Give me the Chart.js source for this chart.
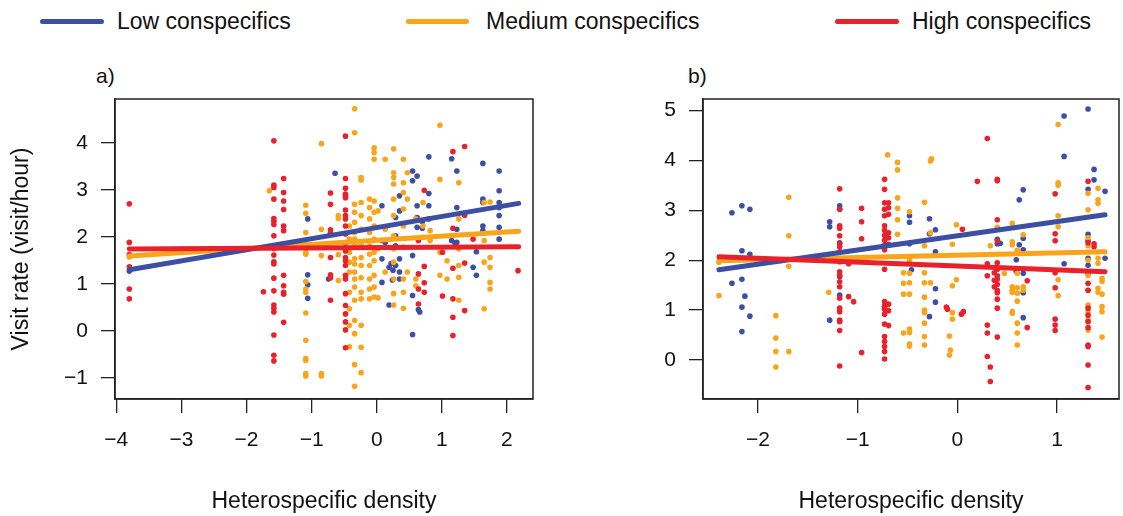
<!DOCTYPE html>
<html>
<head>
<meta charset="utf-8">
<script src="https://cdn.jsdelivr.net/npm/chart.js@4"></script>
<style>
  body { margin: 0; background: #fff; font-family: "Liberation Sans", Arial, sans-serif; color: #111; }
  #page { position: relative; width: 1123px; height: 516px; overflow: hidden; }
  canvas { position: absolute; top: 0; }
  .key-line { position: absolute; top: 19px; height: 5px; border-radius: 3px; }
  .key-text { position: absolute; top: 7px; line-height: 28px; font-size: 23px; white-space: nowrap; }
  .panel-tag { position: absolute; top: 63px; line-height: 26px; font-size: 21px; }
</style>
</head>
<body>
<div id="page">
  <div class="key-line" style="left:40px;width:64px;background:#3c4fa3"></div>
  <div class="key-text" style="left:117px">Low conspecifics</div>
  <div class="key-line" style="left:406px;width:63px;background:#f8a51b"></div>
  <div class="key-text" style="left:486px">Medium conspecifics</div>
  <div class="key-line" style="left:835px;width:64px;background:#e8212a"></div>
  <div class="key-text" style="left:912px">High conspecifics</div>
  <div class="panel-tag" style="left:96px">a)</div>
  <div class="panel-tag" style="left:688px">b)</div>
  <canvas id="panel-a" width="561" height="516" style="left:0"></canvas>
  <canvas id="panel-b" width="562" height="516" style="left:561px"></canvas>
</div>
<script>
const BLUE = "#3c4fa3";
const ORANGE = "#f8a51b";
const RED = "#e8212a";

// axis limits and ticks
const aXRange = [-4.02, 2.40];
const aYRange = [-1.45, 4.93];
const aXTicks = [-4, -3, -2, -1, 0, 1, 2];
const aYTicks = [-1, 0, 1, 2, 3, 4];
const bXRange = [-2.55, 1.62];
const bYRange = [-0.78, 5.23];
const bXTicks = [-2, -1, 0, 1];
const bYTicks = [0, 1, 2, 3, 4, 5];

// panel a, points [heterospecific density, visit rate]
const aLow = [
  [-3.8, 1.27],
  [-1.06, 2.38], [-1.06, 1.19], [-1.06, 0.98], [-1.06, 0.69],
  [-0.74, 1.10], [-0.64, 3.35],
  [0.08, 2.66], [0.08, 1.92], [0.08, 1.53], [0.08, 1.03], [0.13, 1.88],
  [0.19, 1.35], [0.19, 0.55], [0.22, 1.43], [0.25, 1.29], [0.24, 1.08],
  [0.29, 2.41], [0.29, 2.02], [0.29, 1.81], [0.29, 1.39],
  [0.35, 2.87], [0.35, 2.55], [0.35, 1.53], [0.35, 1.25], [0.35, 1.10],
  [0.55, 3.40], [0.55, 3.19], [0.55, 1.60], [0.55, 0.75], [0.55, -0.08],
  [0.62, 3.29], [0.62, 2.66], [0.62, 2.41], [0.62, 2.20], [0.66, 0.40], [0.64, 0.45],
  [0.70, 2.32], [0.70, 2.18],
  [0.80, 3.70], [0.80, 2.92], [0.80, 2.66], [0.80, 2.38],
  [1.15, 3.66], [1.15, 1.92], [1.20, 1.87],
  [1.23, 3.40], [1.23, 2.62], [1.23, 2.16], [1.23, 1.88],
  [1.48, 1.35], [1.53, 1.18], [1.53, 1.68],
  [1.63, 3.56], [1.63, 2.80], [1.63, 2.73], [1.63, 2.23], [1.63, 2.13],
  [1.88, 3.40], [1.88, 2.98], [1.88, 2.73], [1.88, 2.62], [1.88, 2.45], [1.88, 2.20], [1.88, 1.95]
];
const aMed = [
  [-3.8, 1.57], [-1.65, 2.98],
  [-1.09, 2.67], [-1.09, 2.50], [-1.09, 2.09], [-1.09, 1.85], [-1.09, 1.67], [-1.09, 1.63],
  [-1.09, 1.05], [-1.09, 0.89], [-1.09, 0.82], [-1.09, 0.38], [-1.09, -0.20], [-1.09, -0.59],
  [-1.09, -0.63], [-1.09, -0.91], [-1.09, -0.96],
  [-0.85, 3.98], [-0.85, 2.16], [-0.85, 1.60], [-0.85, -0.91], [-0.85, -0.96],
  [-0.59, 2.45], [-0.59, 2.39], [-0.59, 1.07], [-0.59, 1.62],
  [-0.42, 2.23], [-0.42, 1.95], [-0.42, 1.67], [-0.42, 1.46], [-0.42, 1.25], [-0.42, 0.82],
  [-0.42, 0.47], [-0.42, 0.12], [-0.42, -0.34],
  [-0.34, 4.72], [-0.34, 4.21], [-0.34, 2.69], [-0.34, 2.52], [-0.34, 2.31], [-0.34, 2.09],
  [-0.34, 1.95], [-0.34, 1.81], [-0.34, 1.53], [-0.34, 1.42], [-0.34, 1.25], [-0.34, 1.10],
  [-0.34, 0.93], [-0.34, 0.65], [-0.34, 0.22], [-0.34, -0.06], [-0.34, -0.72], [-0.34, -1.18],
  [-0.24, 3.26], [-0.24, 3.21], [-0.24, 2.73], [-0.24, 2.45], [-0.24, 2.16], [-0.24, 1.85],
  [-0.24, 1.56], [-0.24, 1.39], [-0.24, 1.13], [-0.24, 0.82], [-0.24, 0.68], [-0.24, 0.12],
  [-0.24, -0.35], [-0.24, -0.89],
  [-0.11, 2.80], [-0.11, 2.62], [-0.11, 2.38], [-0.11, 2.09], [-0.11, 1.81], [-0.11, 1.63],
  [-0.11, 1.39], [-0.11, 1.10], [-0.11, 0.89], [-0.11, 0.68],
  [-0.04, 3.89], [-0.04, 3.79], [-0.04, 3.65], [-0.04, 2.76], [-0.04, 2.52], [-0.04, 2.23],
  [-0.04, 1.95], [-0.04, 1.67], [-0.04, 1.49], [-0.04, 1.18], [-0.04, 0.93], [-0.04, 0.72],
  [0.02, 2.55], [0.02, 1.75], [0.02, 0.70],
  [0.13, 3.65], [0.13, 2.16], [0.13, 1.25],
  [0.26, 3.87], [0.26, 3.36], [0.26, 3.26], [0.26, 3.12], [0.26, 2.80], [0.26, 2.45],
  [0.26, 2.02], [0.26, 1.74], [0.26, 1.46], [0.26, 1.10], [0.26, 0.79], [0.26, 0.55],
  [0.41, 3.65], [0.41, 3.15], [0.41, 2.94], [0.41, 2.59], [0.41, 2.23], [0.41, 1.78],
  [0.41, 1.10], [0.41, 0.82], [0.41, 0.48],
  [0.47, 3.36], [0.47, 2.80], [0.47, 1.25],
  [0.60, 2.38], [0.60, 1.10], [0.60, 0.96],
  [0.71, 2.73], [0.71, 2.23], [0.71, 1.99],
  [0.82, 2.13], [0.82, 1.92],
  [0.97, 4.37], [0.97, 3.22], [0.97, 1.67], [0.97, 1.18],
  [1.08, 1.49], [1.08, 1.10],
  [1.26, 3.15], [1.26, 2.38], [1.26, 1.74], [1.26, 1.39], [1.26, 1.14], [1.26, 0.65],
  [1.65, 2.73], [1.65, 1.92], [1.65, 1.46], [1.65, 0.47],
  [1.74, 2.74], [1.74, 1.56], [1.74, 1.35], [1.74, 1.03], [1.74, 0.89]
];
const aHigh = [
  [-3.8, 2.70], [-3.8, 1.88], [-3.8, 1.62], [-3.8, 1.36], [-3.8, 0.89], [-3.8, 0.68],
  [-1.74, 0.83],
  [-1.58, 4.04], [-1.58, 3.10], [-1.58, 3.05], [-1.58, 2.80], [-1.58, 2.39], [-1.58, 2.33],
  [-1.58, 2.26], [-1.58, 2.02], [-1.58, 1.75], [-1.58, 1.61], [-1.58, 1.47], [-1.58, 1.42],
  [-1.58, 1.12], [-1.58, 0.85], [-1.58, 0.55], [-1.58, 0.48], [-1.58, 0.40], [-1.58, -0.09],
  [-1.58, -0.52], [-1.58, -0.64],
  [-1.43, 3.24], [-1.43, 2.94], [-1.43, 2.76], [-1.43, 2.58], [-1.43, 2.23], [-1.43, 2.13],
  [-1.43, 1.18], [-1.43, 0.96], [-1.43, 0.82], [-1.43, 0.78], [-1.43, 0.18],
  [-0.71, 2.93], [-0.71, 2.69], [-0.71, 2.15], [-0.71, 2.08], [-0.71, 1.56], [-0.71, 1.19],
  [-0.71, 1.13], [-0.71, 0.65],
  [-0.48, 4.14], [-0.48, 3.24], [-0.48, 3.03], [-0.48, 2.91], [-0.48, 2.87], [-0.48, 2.83],
  [-0.48, 2.57], [-0.48, 2.45], [-0.48, 2.38], [-0.48, 2.23], [-0.48, 2.06], [-0.48, 1.86],
  [-0.48, 1.70], [-0.48, 1.56], [-0.48, 1.49], [-0.48, 1.39], [-0.48, 1.18], [-0.48, 1.10],
  [-0.48, 0.79], [-0.48, 0.54], [-0.48, 0.36], [-0.48, 0.19], [-0.48, 0.02], [-0.48, -0.36],
  [0.64, 1.92], [0.64, 1.21], [0.64, 0.89], [0.64, 0.57],
  [0.73, 2.99], [0.73, 1.37], [0.73, 1.02], [0.73, 0.82],
  [1.01, 1.67], [1.01, 0.74],
  [1.17, 3.81], [1.17, 2.18], [1.17, 1.33], [1.17, 0.68], [1.17, 0.29], [1.17, -0.10],
  [1.35, 3.92], [1.35, 2.46], [1.35, 1.44], [1.35, 0.43],
  [1.48, 1.95], [2.17, 1.28]
];

// panel a, fitted lines
const aLowFit = [[-3.8, 1.30], [2.18, 2.71]];
const aMedFit = [[-3.8, 1.59], [2.18, 2.12]];
const aHighFit = [[-3.8, 1.74], [2.18, 1.79]];

// panel b, points
const bLow = [
  [-2.26, 2.95], [-2.16, 3.09], [-2.08, 3.02], [-2.16, 2.19], [-2.08, 2.12], [-2.26, 1.54],
  [-2.16, 1.62], [-2.13, 1.28], [-2.16, 1.06], [-2.08, 0.88], [-2.16, 0.57],
  [-1.28, 2.77], [-1.28, 2.67], [-1.28, 0.80],
  [-1.18, 3.09], [-1.18, 3.02], [-1.18, 2.35], [-1.18, 1.67], [-1.18, 1.30],
  [-0.48, 2.89], [-0.48, 2.76], [-0.48, 2.33], [-0.46, 1.81],
  [-0.28, 2.83], [-0.28, 2.53], [-0.28, 0.87],
  [-0.22, 2.61], [-0.22, 2.17], [-0.22, 1.43], [-0.22, 1.16],
  [0.40, 2.42], [0.40, 2.33], [0.43, 2.34],
  [0.59, 2.01], [0.59, 1.78],
  [0.62, 3.21], [0.62, 2.31],
  [0.66, 3.41], [0.66, 2.44], [0.66, 2.21], [0.66, 1.74], [0.66, 1.35], [0.66, 0.85],
  [1.07, 4.89], [1.07, 4.08], [1.07, 1.93],
  [1.31, 5.03], [1.31, 3.42], [1.31, 2.52], [1.31, 2.39], [1.31, 2.04], [1.31, 1.90], [1.31, 1.74],
  [1.37, 3.82], [1.37, 3.61], [1.48, 3.38], [1.48, 2.04]
];
const bMed = [
  [-2.39, 1.96], [-2.39, 1.29],
  [-1.69, 3.26], [-1.69, 2.49], [-1.69, 1.88], [-1.82, 0.89], [-1.82, 0.44], [-1.82, 0.17],
  [-1.69, 0.17], [-1.82, -0.14],
  [-1.29, 1.36],
  [-0.70, 4.11],
  [-0.60, 3.96], [-0.60, 3.81], [-0.60, 3.25], [-0.60, 3.04], [-0.60, 2.81], [-0.60, 2.52],
  [-0.54, 1.75], [-0.54, 1.54], [-0.54, 1.32], [-0.54, 0.54],
  [-0.48, 2.97], [-0.48, 2.00], [-0.48, 1.94], [-0.48, 1.74], [-0.48, 1.55], [-0.48, 1.32],
  [-0.48, 0.62], [-0.48, 0.55], [-0.48, 0.32], [-0.48, 0.28],
  [-0.33, 3.16], [-0.33, 2.29], [-0.33, 1.75], [-0.33, 1.55], [-0.33, 1.26], [-0.33, 1.00],
  [-0.33, 0.95], [-0.33, 0.74], [-0.33, 0.47], [-0.33, 0.30],
  [-0.27, 3.99], [-0.26, 4.03], [-0.27, 2.55], [-0.27, 1.55],
  [-0.08, 0.48], [-0.08, 0.10], [-0.07, 0.20],
  [-0.05, 2.32], [-0.05, 1.49], [-0.05, 0.95], [-0.05, 0.82],
  [-0.01, 2.71], [-0.01, 1.61],
  [0.40, 2.66], [0.33, 2.29], [0.47, 1.74],
  [0.55, 2.74], [0.55, 2.37], [0.55, 2.31], [0.55, 1.47], [0.55, 1.40], [0.55, 1.36],
  [0.55, 0.94], [0.55, 0.97],
  [0.60, 2.20], [0.60, 2.14], [0.60, 1.74], [0.60, 1.45], [0.60, 1.34], [0.60, 1.18],
  [0.60, 0.74], [0.60, 0.54], [0.60, 0.30],
  [0.66, 2.51], [0.66, 1.47], [0.66, 1.40],
  [1.01, 4.72], [1.01, 3.55], [1.01, 3.50], [1.01, 2.89], [1.01, 2.67], [1.01, 1.61], [1.01, 1.29],
  [1.31, 3.34], [1.31, 3.01], [1.31, 2.45], [1.31, 2.29], [1.31, 2.00], [1.31, 1.70],
  [1.31, 1.40], [1.31, 1.10], [1.31, 0.97], [1.31, 0.80], [1.31, 0.60],
  [1.41, 3.44], [1.41, 3.21], [1.41, 3.14], [1.41, 2.04], [1.41, 1.94], [1.41, 1.44], [1.41, 1.36],
  [1.45, 1.64], [1.45, 1.58], [1.45, 1.32], [1.45, 1.07], [1.45, 0.97], [1.45, 0.46]
];
const bHigh = [
  [-1.18, 3.43], [-1.18, 3.02], [-1.18, 2.69], [-1.18, 2.64], [-1.18, 2.49], [-1.18, 2.33],
  [-1.18, 2.27], [-1.18, 2.17], [-1.18, 1.97], [-1.18, 1.77], [-1.18, 1.70], [-1.18, 1.57],
  [-1.18, 1.47], [-1.18, 1.24], [-1.18, 1.04], [-1.18, 0.97], [-1.18, 0.80], [-1.18, 0.77],
  [-1.18, 0.59], [-1.18, -0.12],
  [-1.09, 1.93], [-1.09, 1.27], [-1.04, 1.17],
  [-0.96, 3.04], [-0.96, 2.77], [-0.96, 2.43], [-0.96, 0.15],
  [-0.73, 3.62], [-0.73, 3.42], [-0.73, 3.15], [-0.73, 3.02], [-0.73, 2.89], [-0.73, 2.69],
  [-0.73, 2.60], [-0.73, 2.50], [-0.73, 2.40], [-0.73, 2.30], [-0.73, 2.21], [-0.73, 1.82],
  [-0.73, 1.17], [-0.73, 1.08], [-0.73, 1.02], [-0.73, 0.92], [-0.73, 0.72], [-0.73, 0.47],
  [-0.73, 0.37], [-0.73, 0.27], [-0.73, 0.17], [-0.73, 0.02],
  [-0.69, 3.15], [-0.69, 3.05], [-0.69, 2.92], [-0.69, 2.55], [-0.69, 2.45], [-0.69, 2.32],
  [-0.69, 1.12], [-0.69, 0.99], [-0.69, 0.69],
  [-0.11, 1.06], [-0.10, 1.02],
  [0.05, 2.62], [0.06, 0.97], [0.04, 0.92],
  [0.20, 3.58],
  [0.30, 4.44], [0.30, 1.93], [0.30, 1.69], [0.30, 0.70], [0.30, 0.54], [0.30, 0.07],
  [0.33, -0.14], [0.33, -0.43],
  [0.40, 3.62], [0.40, 3.59], [0.40, 2.81], [0.40, 2.39], [0.40, 1.95], [0.40, 1.82],
  [0.40, 1.69], [0.40, 1.62], [0.40, 1.52], [0.40, 1.40], [0.40, 1.35], [0.40, 1.22],
  [0.40, 1.04], [0.40, 0.46],
  [0.37, 1.75], [0.37, 1.60], [0.37, 1.47],
  [0.70, 1.59], [0.70, 0.65],
  [0.98, 3.33], [0.98, 2.53], [0.98, 2.39], [0.98, 1.75], [0.98, 1.45], [0.98, 0.82],
  [0.98, 0.70], [0.98, 0.59],
  [1.31, 3.58], [1.31, 2.35], [1.31, 1.54], [1.31, 1.40], [1.31, 1.04], [1.31, 0.90],
  [1.31, 0.77], [1.31, 0.65], [1.31, 0.30], [1.31, 0.27], [1.31, -0.10], [1.31, -0.55],
  [1.37, 2.33], [1.37, 2.27]
];

// panel b, fitted lines
const bLowFit = [[-2.39, 1.81], [1.48, 2.91]];
const bMedFit = [[-2.39, 1.99], [1.48, 2.17]];
const bHighFit = [[-2.39, 2.07], [1.48, 1.77]];

const FONT = "'Liberation Sans', Arial, sans-serif";
const toXY = pts => pts.map(([x, y]) => ({ x, y }));
const minusFmt = v => (v < 0 ? "\u2212" + Math.abs(v) : String(v));

const boxPlugin = {
  id: "box",
  afterDraw(chart) {
    const { ctx, chartArea: a } = chart;
    ctx.save();
    ctx.strokeStyle = "#222";
    ctx.lineWidth = 1.5;
    ctx.strokeRect(a.left, a.top, a.right - a.left, a.bottom - a.top);
    ctx.restore();
  },
};

function pointSet(pts, color) {
  return {
    data: toXY(pts),
    backgroundColor: color,
    borderWidth: 0,
    pointRadius: 2.8,
    order: 5,
  };
}

function fitLine(pts, color, order) {
  return {
    type: "line",
    data: toXY(pts),
    borderColor: color,
    borderWidth: 5,
    borderCapStyle: "round",
    pointRadius: 0,
    showLine: true,
    fill: false,
    order: order,
  };
}

function axis(range, ticks, fitSize, horizontal, title) {
  return {
    type: "linear",
    min: range[0],
    max: range[1],
    afterBuildTicks: s => { s.ticks = ticks.map(v => ({ value: v })); },
    afterFit: s => { if (horizontal) s.height = fitSize; else s.width = fitSize; },
    grid: { drawOnChartArea: false, drawTicks: true, tickLength: 14, color: "#222", lineWidth: 1.3 },
    border: { display: true, color: "#222", width: 1.5 },
    ticks: {
      padding: horizontal ? 15 : 13,
      color: "#111",
      font: { family: FONT, size: 21 },
      callback: minusFmt,
      autoSkip: false,
      maxRotation: 0,
    },
    title: {
      display: !!title,
      text: title || "",
      color: "#111",
      font: { family: FONT, size: 23 },
      padding: horizontal ? { top: 0, bottom: 1 } : { top: 8, bottom: 0 },
    },
  };
}

function makePanel(id, low, med, high, lowFit, medFit, highFit, xr, yr, xt, yt, yWidth, rightPad, yTitle) {
  new Chart(document.getElementById(id), {
    type: "scatter",
    data: {
      datasets: [
        fitLine(highFit, RED, 0),
        fitLine(lowFit, BLUE, 1),
        fitLine(medFit, ORANGE, 2),
        pointSet(high, RED),
        pointSet(med, ORANGE),
        pointSet(low, BLUE),
      ],
    },
    options: {
      responsive: false,
      animation: false,
      devicePixelRatio: 1,
      layout: { padding: { top: 99, right: rightPad, left: 0, bottom: 0 } },
      plugins: { legend: { display: false }, tooltip: { enabled: false } },
      scales: {
        x: axis(xr, xt, 117, true, "Heterospecific density"),
        y: axis(yr, yt, yWidth, false, yTitle),
      },
    },
    plugins: [boxPlugin],
  });
}

makePanel("panel-a", aLow, aMed, aHigh, aLowFit, aMedFit, aHighFit,
  aXRange, aYRange, aXTicks, aYTicks, 115, 28, "Visit rate (visit/hour)");
makePanel("panel-b", bLow, bMed, bHigh, bLowFit, bMedFit, bHighFit,
  bXRange, bYRange, bXTicks, bYTicks, 142, 2, null);
</script>
</body>
</html>
